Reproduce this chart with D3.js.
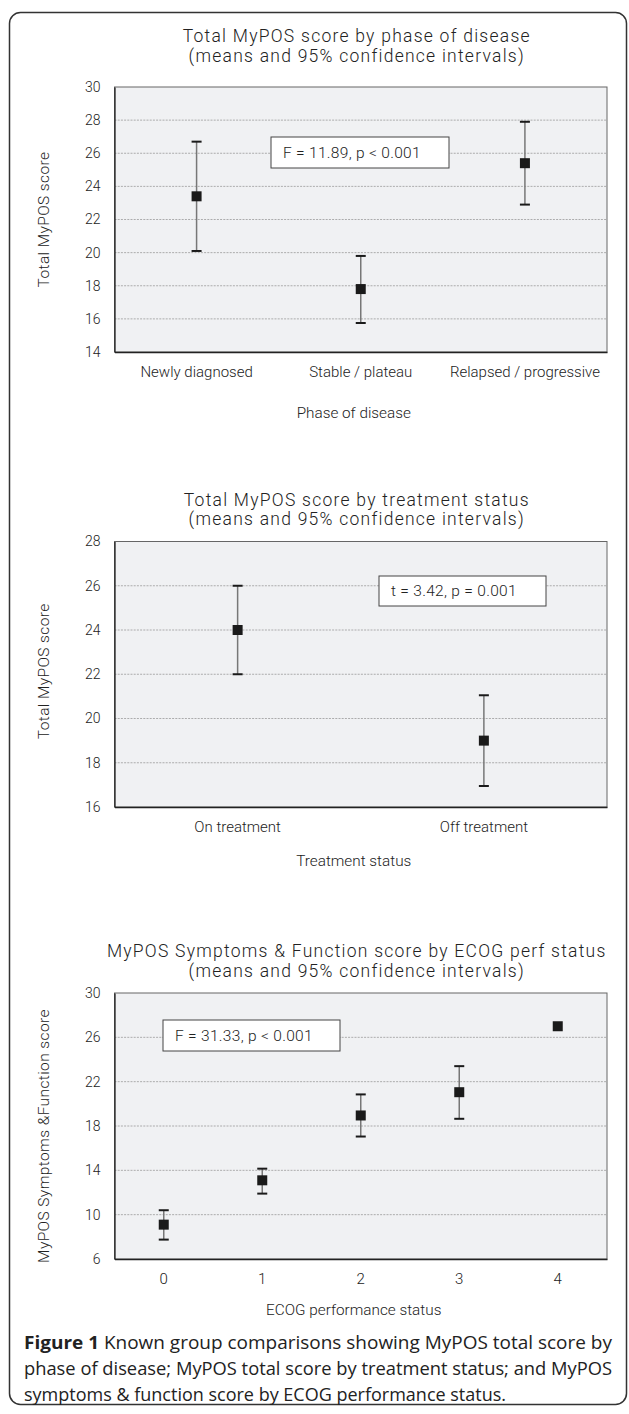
<!DOCTYPE html>
<html><head><meta charset="utf-8">
<script src="https://cdn.jsdelivr.net/npm/d3@7"></script>
<style>
body{margin:0;background:#fff}
svg{display:block}
.chart text{font-family:Roboto,"Liberation Sans",sans-serif;font-weight:300;fill:#222}
.cap text{font-family:"Open Sans","Noto Sans",sans-serif;fill:#222}
</style>
</head><body>
<svg id="c" width="629" height="1414"></svg>
<script>
// ---- Panel 1: phase of disease ----
const phaseCategories = ["Newly diagnosed", "Stable / plateau", "Relapsed / progressive"];
const phaseMeans = [23.4, 17.8, 25.4];
const phaseLower = [20.1, 15.75, 22.9];
const phaseUpper = [26.7, 19.8, 27.9];
const phaseTicks = [14, 16, 18, 20, 22, 24, 26, 28, 30];

// ---- Panel 2: treatment status ----
const treatCategories = ["On treatment", "Off treatment"];
const treatMeans = [24.0, 19.0];
const treatLower = [22.0, 16.95];
const treatUpper = [26.0, 21.05];
const treatTicks = [16, 18, 20, 22, 24, 26, 28];

// ---- Panel 3: ECOG performance status ----
const ecogCategories = ["0", "1", "2", "3", "4"];
const ecogMeans = [9.1, 13.1, 18.95, 21.05, 27.0];
const ecogLower = [7.75, 11.9, 17.05, 18.65, null];
const ecogUpper = [10.4, 14.15, 20.85, 23.4, null];
const ecogTicks = [6, 10, 14, 18, 22, 26, 30];

const panels = [
  {
    title: ["Total MyPOS score by phase of disease", "(means and 95% confidence intervals)"],
    titleY: [36, 56],
    yLabel: "Total MyPOS score", xLabel: "Phase of disease", yLabShift: 0,
    cats: phaseCategories, means: phaseMeans, lo: phaseLower, hi: phaseUpper, ticks: phaseTicks,
    top: 87, bottom: 352, catY: 372, xLabY: 413,
    stat: "F = 11.89, p < 0.001", box: [271, 137, 178, 31]
  },
  {
    title: ["Total MyPOS score by treatment status", "(means and 95% confidence intervals)"],
    titleY: [500, 519],
    yLabel: "Total MyPOS score", xLabel: "Treatment status", yLabShift: -3,
    cats: treatCategories, means: treatMeans, lo: treatLower, hi: treatUpper, ticks: treatTicks,
    top: 541.5, bottom: 807, catY: 827, xLabY: 861,
    stat: "t = 3.42, p = 0.001", box: [379, 576, 167, 30]
  },
  {
    title: ["MyPOS Symptoms & Function score by ECOG perf status", "(means and 95% confidence intervals)"],
    titleY: [951, 971],
    yLabel: "MyPOS Symptoms &Function score", xLabel: "ECOG performance status", yLabShift: 10,
    cats: ecogCategories, means: ecogMeans, lo: ecogLower, hi: ecogUpper, ticks: ecogTicks,
    top: 993, bottom: 1259, catY: 1279, xLabY: 1310,
    stat: "F = 31.33, p < 0.001", box: [163, 1020, 177, 31]
  }
];

const svg = d3.select("#c");
// outer frame
svg.append("rect").attr("x", 9.5).attr("y", 12.5).attr("width", 617).attr("height", 1392)
  .attr("rx", 11).attr("fill", "none").attr("stroke", "#333").attr("stroke-width", 1.5);

const L = 114.5, R = 607;
const chart = svg.append("g").attr("class", "chart");

panels.forEach(p => {
  const g = chart.append("g");
  const x = d3.scaleBand().domain(p.cats).range([L, R]);
  const y = d3.scaleLinear().domain([p.ticks[0], p.ticks[p.ticks.length - 1]]).range([p.bottom, p.top]);

  // titles
  p.title.forEach((t, i) => g.append("text").attr("x", (L + R) / 2 - 4).attr("y", p.titleY[i])
    .attr("text-anchor", "middle").attr("dominant-baseline", "central")
    .style("font-size", "17.5px").style("letter-spacing", "1.25px").text(t));

  // plot background
  g.append("rect").attr("x", L).attr("y", p.top).attr("width", R - L).attr("height", p.bottom - p.top)
    .attr("fill", "#f0f1f3").attr("stroke", "#666").attr("stroke-width", 1);

  // gridlines
  g.append("g").selectAll("line").data(p.ticks.slice(1, -1)).join("line")
    .attr("x1", L).attr("x2", R).attr("y1", d => y(d)).attr("y2", d => y(d))
    .attr("stroke", "#9a9a9a").attr("stroke-width", 0.8).attr("stroke-dasharray", "2,1.2");

  // y axis
  const ya = g.append("g").attr("transform", `translate(${L},0)`)
    .call(d3.axisLeft(y).tickValues(p.ticks).tickSize(0).tickPadding(14));
  ya.select(".domain").attr("stroke", "#222").attr("stroke-width", 1.3);
  ya.selectAll("text").style("font-size", "14px").style("font-family", "Roboto").style("font-weight", 300).attr("fill", "#333");

  // x axis
  const xa = g.append("g").attr("transform", `translate(0,${p.bottom})`)
    .call(d3.axisBottom(x).tickSize(0).tickPadding(0));
  xa.select(".domain").attr("stroke", "#222").attr("stroke-width", 1.3);
  xa.selectAll("text").attr("y", p.catY - p.bottom).attr("dy", null).attr("dominant-baseline", "central")
    .style("font-size", "15px").style("font-family", "Roboto").style("font-weight", 300).attr("fill", "#333");

  // axis titles
  g.append("text").attr("transform", `translate(44,${(p.top + p.bottom) / 2 + p.yLabShift}) rotate(-90)`)
    .attr("text-anchor", "middle").attr("dominant-baseline", "central")
    .style("font-size", "15.5px").style("letter-spacing", "0.4px").text(p.yLabel);
  g.append("text").attr("x", (L + R) / 2 - 7).attr("y", p.xLabY)
    .attr("text-anchor", "middle").attr("dominant-baseline", "central")
    .style("font-size", "15.3px").text(p.xLabel);

  // stat box
  g.append("rect").attr("x", p.box[0]).attr("y", p.box[1]).attr("width", p.box[2]).attr("height", p.box[3])
    .attr("fill", "#fff").attr("stroke", "#444").attr("stroke-width", 1);
  g.append("text").attr("x", p.box[0] + 12).attr("y", p.box[1] + p.box[3] / 2)
    .attr("dominant-baseline", "central").style("font-size", "15.5px").style("letter-spacing", "0.3px").text(p.stat);

  // error bars
  const idx = p.cats.map((c, i) => i).filter(i => p.lo[i] != null);
  const cx = i => x(p.cats[i]) + x.bandwidth() / 2;
  g.append("g").selectAll("line").data(idx).join("line")
    .attr("x1", cx).attr("x2", cx).attr("y1", i => y(p.lo[i])).attr("y2", i => y(p.hi[i]))
    .attr("stroke", "#777").attr("stroke-width", 1.5);
  ["lo", "hi"].forEach(k => g.append("g").selectAll("line").data(idx).join("line")
    .attr("x1", i => cx(i) - 5).attr("x2", i => cx(i) + 5)
    .attr("y1", i => y(p[k][i])).attr("y2", i => y(p[k][i]))
    .attr("stroke", "#1a1a1a").attr("stroke-width", 2));
  // means
  g.append("g").selectAll("rect").data(p.means.map((m, i) => i)).join("rect")
    .attr("x", i => cx(i) - 5).attr("y", i => y(p.means[i]) - 5).attr("width", 10).attr("height", 10)
    .attr("fill", "#1a1a1a");
});

// caption
const cap = svg.append("g").attr("class", "cap");
const capLines = [
  [["Figure 1", 700], [" Known group comparisons showing MyPOS total score by", 400]],
  [["phase of disease; MyPOS total score by treatment status; and MyPOS", 400]],
  [["symptoms & function score by ECOG performance status.", 400]]
];
const capY = [1342, 1368, 1394];
capLines.forEach((ln, i) => {
  const t = cap.append("text").attr("x", 24).attr("y", capY[i]).attr("dominant-baseline", "central")
    .style("font-size", "18px");
  ln.forEach(s => t.append("tspan").style("font-weight", s[1]).text(s[0]));
  if (i < 2) t.attr("textLength", 588).attr("lengthAdjust", "spacingAndGlyphs");
});
</script>
</body></html>
